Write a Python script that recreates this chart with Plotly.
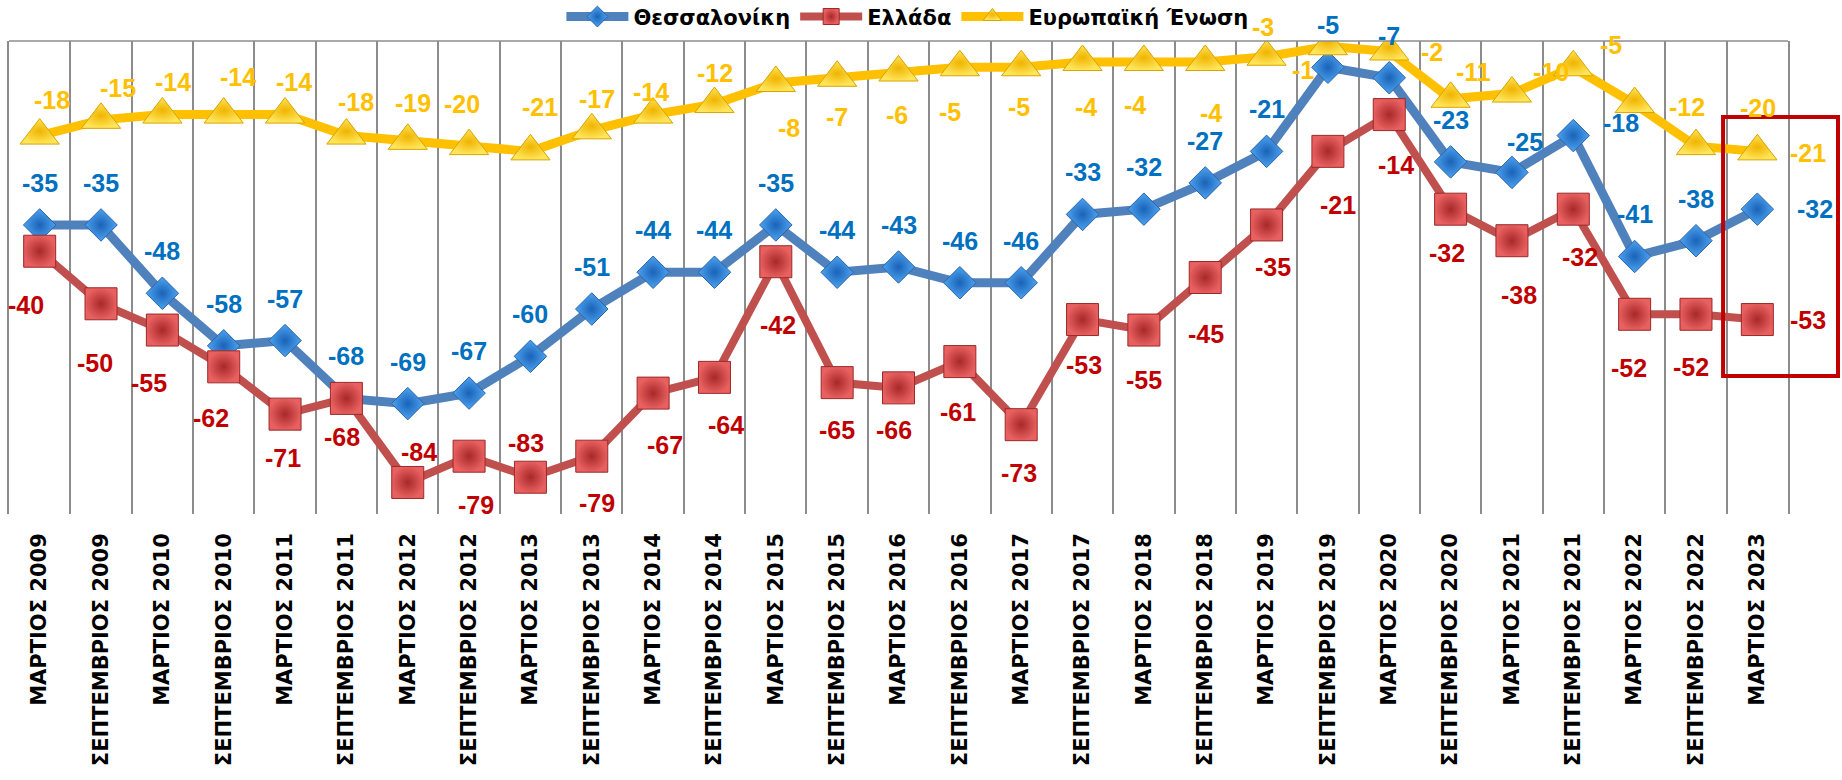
import plotly.graph_objects as go

categories = [
    "ΜΑΡΤΙΟΣ 2009", "ΣΕΠΤΕΜΒΡΙΟΣ 2009", "ΜΑΡΤΙΟΣ 2010", "ΣΕΠΤΕΜΒΡΙΟΣ 2010",
    "ΜΑΡΤΙΟΣ 2011", "ΣΕΠΤΕΜΒΡΙΟΣ 2011", "ΜΑΡΤΙΟΣ 2012", "ΣΕΠΤΕΜΒΡΙΟΣ 2012",
    "ΜΑΡΤΙΟΣ 2013", "ΣΕΠΤΕΜΒΡΙΟΣ 2013", "ΜΑΡΤΙΟΣ 2014", "ΣΕΠΤΕΜΒΡΙΟΣ 2014",
    "ΜΑΡΤΙΟΣ 2015", "ΣΕΠΤΕΜΒΡΙΟΣ 2015", "ΜΑΡΤΙΟΣ 2016", "ΣΕΠΤΕΜΒΡΙΟΣ 2016",
    "ΜΑΡΤΙΟΣ 2017", "ΣΕΠΤΕΜΒΡΙΟΣ 2017", "ΜΑΡΤΙΟΣ 2018", "ΣΕΠΤΕΜΒΡΙΟΣ 2018",
    "ΜΑΡΤΙΟΣ 2019", "ΣΕΠΤΕΜΒΡΙΟΣ 2019", "ΜΑΡΤΙΟΣ 2020", "ΣΕΠΤΕΜΒΡΙΟΣ 2020",
    "ΜΑΡΤΙΟΣ 2021", "ΣΕΠΤΕΜΒΡΙΟΣ 2021", "ΜΑΡΤΙΟΣ 2022", "ΣΕΠΤΕΜΒΡΙΟΣ 2022",
    "ΜΑΡΤΙΟΣ 2023",
]

thessaloniki = [-35, -35, -48, -58, -57, -68, -69, -67, -60, -51, -44, -44, -35, -44, -43,
                -46, -46, -33, -32, -27, -21, -5, -7, -23, -25, -18, -41, -38, -32]
greece = [-40, -50, -55, -62, -71, -68, -84, -79, -83, -79, -67, -64, -42, -65, -66,
          -61, -73, -53, -55, -45, -35, -21, -14, -32, -38, -32, -52, -52, -53]
eu = [-18, -15, -14, -14, -14, -18, -19, -20, -21, -17, -14, -12, -8, -7, -6,
      -5, -5, -4, -4, -4, -3, -1, -2, -11, -10, -5, -12, -20, -21]

# label placement offsets (pixels), styling only
thess_dx = [0] * 24 + [13, 48, 0, 0, 58]
thess_dy = [42] * 24 + [30, 13, 42, 42, 0]
greece_dx = [-14, -6, -13, -13, -2, -4, 11, 7, -4, 5, 12, 12, 2, 0, -5,
             -2, -2, 1, 0, 1, 6, 10, 7, -4, 7, 7, -6, -5, 51]
greece_dy = [-54, -59, -53, -51, -44, -39, 30, -49, 34, -47, -52, -48, -63, -47, -42,
             -50, -48, -45, -50, -56, -42, -54, -50, -44, -54, -48, -54, -53, 0]
eu_dx = [12, 17, 11, 14, 9, 10, 5, -7, 10, 5, -2, 1, 13, 0, -2,
         -10, -2, 3, -9, 6, -4, -25, 43, 23, 39, 38, 52, 62, 51]
eu_dy = [36, 32, 33, 38, 33, 34, 38, 42, 44, 31, 23, 31, -45, -39, -42,
         -45, -40, -45, -43, -51, 30, -24, 0, 27, 22, 22, -3, 38, -2]

fig = go.Figure()

fig.add_trace(go.Scatter(
    x=categories, y=thessaloniki, name="Θεσσαλονίκη", mode="lines+markers",
    line=dict(color="#4F81BD", width=9),
    marker=dict(symbol="diamond", size=25, color="#4DA3F0",
                gradient=dict(type="radial", color="#1A62B8"),
                line=dict(color="#2A64A8", width=1)),
))
fig.add_trace(go.Scatter(
    x=categories, y=greece, name="Ελλάδα", mode="lines+markers",
    line=dict(color="#C0504D", width=8),
    marker=dict(symbol="square", size=32, color="#E86060",
                gradient=dict(type="radial", color="#A82828"),
                line=dict(color="#9A2A2A", width=1)),
))
fig.add_trace(go.Scatter(
    x=categories, y=eu, name="Ευρωπαϊκή Ένωση", mode="lines+markers",
    line=dict(color="#FFC000", width=9),
    marker=dict(symbol="triangle-up", size=34, color="#FFE55A",
                gradient=dict(type="radial", color="#F0B400"),
                line=dict(color="#D9A400", width=1)),
))

annotations = []
label_font = dict(family="Liberation Sans, Arial, sans-serif", size=25, weight="bold")
for vals, dxs, dys, col in [
    (thessaloniki, thess_dx, thess_dy, "#0070C0"),
    (greece, greece_dx, greece_dy, "#C00000"),
    (eu, eu_dx, eu_dy, "#FFC000"),
]:
    for c, v, dx, dy in zip(categories, vals, dxs, dys):
        annotations.append(dict(
            x=c, y=v, xref="x", yref="y", text=str(v), showarrow=False,
            xshift=dx, yshift=dy, font=dict(color=col, **label_font),
        ))

fig.update_layout(
    width=1842, height=780,
    paper_bgcolor="white", plot_bgcolor="white",
    margin=dict(l=9, r=54, t=41, b=266, autoexpand=False),
    showlegend=True,
    legend=dict(orientation="h", x=0.505, xanchor="center", y=1.051, yanchor="middle",
                font=dict(family="DejaVu Sans", size=21, color="black", weight="bold"),
                itemwidth=62,
                bgcolor="rgba(0,0,0,0)", traceorder="normal"),
    annotations=annotations,
    shapes=[
        dict(type="line", xref="paper", yref="paper", x0=0, x1=1, y0=1, y1=1,
             line=dict(color="#8C8C8C", width=1.5)),
        dict(type="rect", xref="paper", yref="paper", x0=0.9635, x1=1.0281,
             y0=0.2918, y1=0.8393, line=dict(color="#C00000", width=4),
             fillcolor="rgba(0,0,0,0)"),
    ],
)
fig.update_xaxes(
    type="category", range=[-0.5, 28.5], tickson="boundaries",
    showgrid=True, gridcolor="#8C8C8C", gridwidth=1.5,
    ticks="", tickangle=-90, automargin=False, ticklabelstandoff=14,
    tickfont=dict(family="DejaVu Sans", size=21, color="black", weight="bold"),
    showline=False, zeroline=False,
)
fig.update_yaxes(
    range=[-90, 0], showgrid=False, showticklabels=False, zeroline=False,
    showline=True, linecolor="#8C8C8C", linewidth=1.5, mirror=True, automargin=False,
)

fig.write_html(
    "out.html",
    config={"displayModeBar": False},
    post_script="document.body.style.margin='0';document.body.style.overflow='hidden';",
)
